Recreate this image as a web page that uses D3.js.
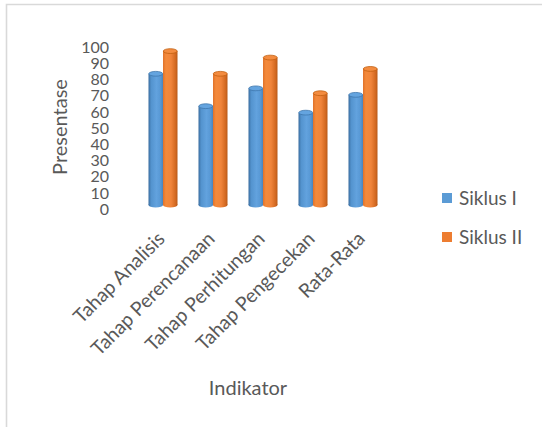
<!DOCTYPE html>
<html>
<head>
<meta charset="utf-8">
<script src="https://cdn.jsdelivr.net/npm/d3@7"></script>
<style>
  html, body { margin: 0; padding: 0; background: #fff; }
  svg { display: block; }
  text { font-family: Lato, "Open Sans", sans-serif; fill: #595959; }
</style>
</head>
<body>
<svg id="chart" width="542" height="427"></svg>
<script>
// Indicator categories and the two cycles' percentages
const categories = ["Tahap Analisis", "Tahap Perencanaan", "Tahap Perhitungan", "Tahap Pengecekan", "Rata-Rata"];
const siklusI = [81, 61, 72, 57, 68];
const siklusII = [95, 81, 91, 69, 84];
const seriesNames = ["Siklus I", "Siklus II"];
const yTicks = [0, 10, 20, 30, 40, 50, 60, 70, 80, 90, 100];

const svg = d3.select("#chart");
const W = 542, H = 427;

svg.append("rect").attr("width", W).attr("height", H).attr("fill", "#fff");

// Frame (top and left edges)
svg.append("path")
  .attr("d", "M6.5,427 V4.5 H542")
  .attr("fill", "none")
  .attr("stroke", "#d9d9d9")
  .attr("stroke-width", 1.6);

const x = d3.scaleBand().domain(categories).range([138, 388]).padding(0);
const y = d3.scaleLinear().domain([0, 100]).range([209, 47]);
const floorShift = -4;   // 3D floor sits slightly above the axis labels
const barW = 14.5;
const ry = 2.4;

const defs = svg.append("defs");
function grad(id, stops) {
  const g = defs.append("linearGradient").attr("id", id)
    .attr("x1", "0%").attr("x2", "100%").attr("y1", "0%").attr("y2", "0%");
  stops.forEach(([o, c]) => g.append("stop").attr("offset", o).attr("stop-color", c));
}
grad("gBlue", [["0%", "#3a6c9e"], ["18%", "#5393ce"], ["55%", "#62a2de"], ["85%", "#5797d3"], ["100%", "#4a83ba"]]);
grad("gOrange", [["0%", "#e0722a"], ["20%", "#f48a3b"], ["55%", "#f0843a"], ["85%", "#d46a22"], ["100%", "#b85a18"]]);

const styles = [
  { body: "url(#gBlue)", top: "#64a4df", edge: "#3f77ad" },
  { body: "url(#gOrange)", top: "#f38b3f", edge: "#c2600f" }
];
const seriesData = [siklusI, siklusII];

const bars = svg.append("g").attr("transform", `translate(0,${floorShift})`);
seriesData.forEach((vals, si) => {
  const st = styles[si];
  categories.forEach((c, i) => {
    const cx = x(c) + x.bandwidth() / 2;
    const x0 = si === 0 ? cx - barW : cx;
    const yt = y(vals[i]), yb = y(0);
    const g = bars.append("g");
    // base ellipse
    g.append("ellipse").attr("cx", x0 + barW / 2).attr("cy", yb)
      .attr("rx", barW / 2).attr("ry", ry).attr("fill", st.body);
    // cylinder body
    g.append("rect").attr("x", x0).attr("y", yt).attr("width", barW)
      .attr("height", yb - yt).attr("fill", st.body);
    // top cap
    g.append("ellipse").attr("cx", x0 + barW / 2).attr("cy", yt)
      .attr("rx", barW / 2 - 0.3).attr("ry", ry).attr("fill", st.top)
      .attr("stroke", st.edge).attr("stroke-width", 0.8);
  });
});

// Value axis labels
svg.append("g").selectAll("text").data(yTicks).join("text")
  .attr("x", 109).attr("y", d => y(d)).attr("dy", "0.36em")
  .attr("text-anchor", "end").attr("font-size", 16).text(d => d);

// Category labels, rotated
svg.append("g").selectAll("text").data(categories).join("text")
  .attr("text-anchor", "end").attr("font-size", 19.5)
  .attr("transform", d => `translate(${x(d) + x.bandwidth() / 2 + 3},240) rotate(-45)`)
  .text(d => d);

// Axis titles
svg.append("text").attr("transform", "translate(67,127) rotate(-90)")
  .attr("text-anchor", "middle").attr("font-size", 20).text("Presentase");
svg.append("text").attr("x", 248).attr("y", 395)
  .attr("text-anchor", "middle").attr("font-size", 20).text("Indikator");

// Legend
const legendColors = ["#5b9bd5", "#ed7d31"];
const lg = svg.append("g").selectAll("g").data(seriesNames).join("g")
  .attr("transform", (d, i) => `translate(442,${193 + i * 39})`);
lg.append("rect").attr("width", 10).attr("height", 10).attr("fill", (d, i) => legendColors[i]);
lg.append("text").attr("x", 17).attr("y", 5).attr("dy", "0.36em")
  .attr("font-size", 19).text(d => d);
</script>
</body>
</html>
